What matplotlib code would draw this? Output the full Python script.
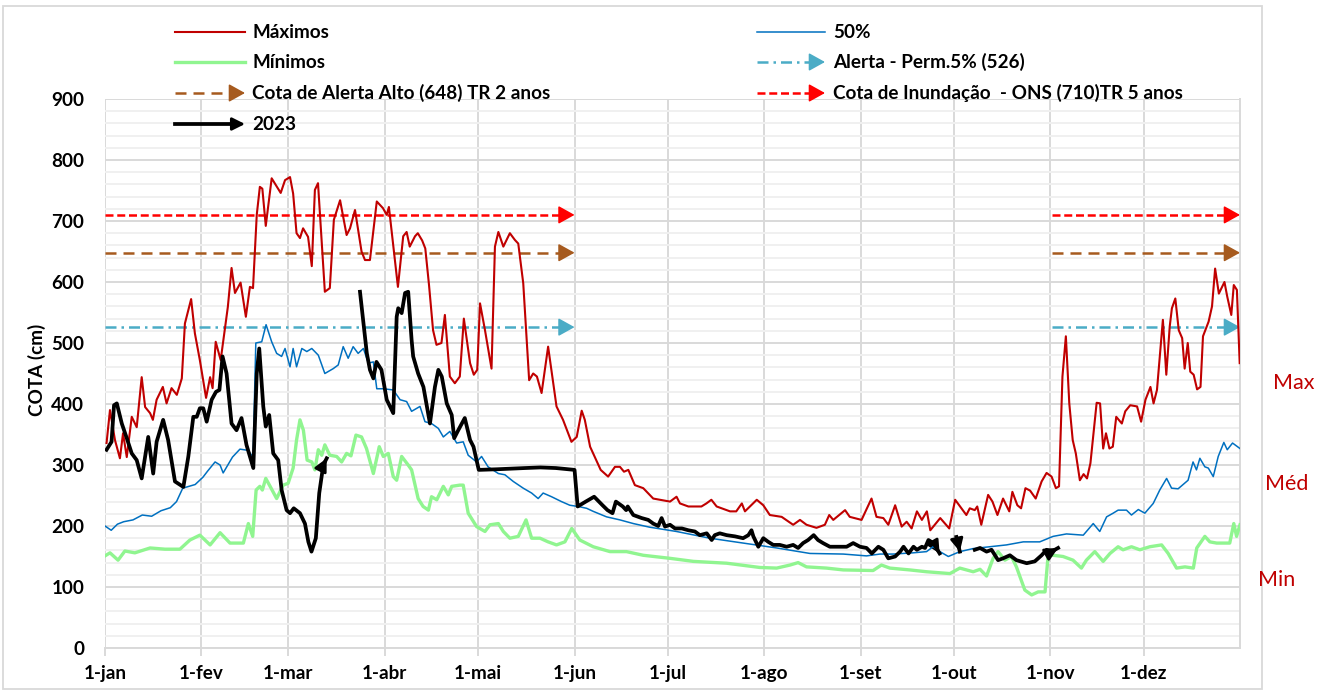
import numpy as np
import matplotlib.pyplot as plt
from matplotlib.patches import Rectangle

plt.rcParams['font.family'] = ['Lato', 'DejaVu Sans']

# eixo x em dias do ano (0 = 1-jan)
meses_dias = [0, 31, 59, 90, 120, 151, 181, 212, 243, 273, 304, 334]
meses_rot = ['1-jan', '1-fev', '1-mar', '1-abr', '1-mai', '1-jun', '1-jul',
             '1-ago', '1-set', '1-out', '1-nov', '1-dez']

# cotas maximas (dia, cm)
maximos = [(0.5, 336), (1.6, 390), (3.2, 341), (4.8, 311), (5.8, 352), (7.0, 313), (8.6, 379),
           (10.2, 362), (11.8, 444), (12.9, 395), (14.5, 385), (15.4, 374), (16.6, 407), (18.6, 428),
           (19.8, 401), (21.4, 426), (23.1, 415), (24.7, 442), (25.7, 532), (27.7, 572), (28.9, 516),
           (30.5, 472), (32.5, 410), (33.8, 444), (34.6, 426), (35.6, 502), (37.2, 472), (39.5, 559),
           (40.7, 623), (41.8, 582), (43.6, 599), (45.3, 543), (46.6, 592), (47.6, 590), (48.8, 710),
           (49.8, 756), (50.6, 753), (51.7, 692), (53.6, 770), (56.5, 746), (57.9, 767), (59.5, 772),
           (60.5, 745), (61.6, 680), (62.7, 672), (63.7, 688), (65.3, 674), (66.5, 626), (67.5, 751),
           (68.5, 762), (70.7, 584), (72.3, 590), (73.6, 702), (75.6, 734), (77.7, 677), (78.8, 688),
           (80.4, 718), (82.5, 650), (83.6, 636), (85.2, 636), (87.4, 732), (89.4, 721), (90.6, 710),
           (91.3, 723), (92.6, 664), (94.2, 592), (95.9, 675), (97.0, 682), (98.0, 658), (99.7, 675),
           (100.6, 680), (102.0, 668), (103.0, 655), (104.2, 595), (105.5, 521), (106.6, 497),
           (108.2, 500), (109.3, 546), (110.9, 445), (112.5, 434), (114.1, 445), (115.4, 540),
           (117.4, 467), (118.6, 448), (119.7, 456), (120.6, 565), (122.2, 521), (124.3, 458),
           (125.4, 658), (126.5, 682), (128.1, 658), (130.2, 680), (131.8, 669), (132.9, 663),
           (134.5, 598), (136.4, 439), (137.7, 450), (138.9, 445), (140.4, 418), (142.5, 494),
           (145.2, 396), (147.3, 374), (150.0, 338), (151.7, 346), (153.3, 389), (154.3, 374),
           (156.0, 330), (159.4, 292), (161.8, 281), (164.0, 297), (165.6, 297), (166.9, 289),
           (168.3, 292), (170.4, 267), (173.1, 262), (176.3, 245), (181.7, 240), (183.8, 248),
           (184.9, 237), (187.6, 232), (191.8, 232), (193.4, 237), (195.0, 243), (196.7, 232),
           (201.0, 224), (203.0, 224), (204.8, 237), (205.8, 224), (209.6, 243), (211.7, 234),
           (213.8, 218), (217.6, 215), (221.3, 202), (223.5, 210), (225.6, 202), (228.8, 197),
           (231.5, 202), (232.9, 218), (234.2, 210), (238.0, 226), (239.5, 215), (243.3, 210),
           (246.5, 245), (248.1, 215), (250.3, 213), (251.9, 202), (254.1, 234), (256.2, 199),
           (257.8, 207), (259.4, 196), (261.1, 224), (262.7, 210), (264.3, 224), (265.4, 193),
           (268.6, 213), (271.5, 196), (273.4, 243), (277.0, 218), (278.1, 229), (279.7, 226),
           (280.5, 232), (281.8, 202), (284.0, 251), (285.4, 240), (287.0, 218), (288.8, 245),
           (290.8, 224), (291.8, 256), (293.4, 234), (294.6, 229), (296.0, 262), (297.5, 258),
           (299.3, 245), (301.2, 273), (302.8, 287), (304.4, 281), (305.8, 262), (306.8, 265),
           (307.9, 445), (309.0, 511), (310.1, 401), (311.2, 341), (312.2, 319), (313.5, 275),
           (314.7, 285), (315.8, 278), (316.9, 303), (318.9, 402), (320.0, 401), (321.0, 327),
           (321.9, 352), (323.0, 327), (324.1, 330), (325.2, 379), (327.0, 368), (328.1, 388),
           (329.7, 398), (331.9, 396), (333.2, 371), (334.6, 407), (336.2, 428), (337.2, 401),
           (338.3, 423), (339.4, 489), (340.2, 538), (341.3, 448), (342.4, 527), (343.1, 557),
           (344.2, 573), (345.3, 521), (346.4, 508), (347.2, 458), (348.2, 500), (349.0, 453),
           (350.1, 448), (351.2, 424), (352.3, 428), (353.1, 511), (354.9, 535), (356.0, 560),
           (357.0, 622), (358.2, 581), (360.0, 600), (360.9, 576), (362.2, 546), (363.0, 595),
           (364.0, 587), (364.9, 467)]

# permanencia 50%
mediana = [(0, 200), (2, 193), (4, 203), (6, 207), (9, 210), (12, 218), (15, 216), (18, 225),
           (21, 230), (23, 240), (25, 262), (27, 265), (29, 268), (31.5, 280), (33, 290),
           (35.4, 305), (37, 300), (38, 287), (39.5, 300), (41, 313), (43.4, 326), (46, 324),
           (47.6, 313), (48.5, 500), (50.4, 502), (51.8, 530), (53.6, 502), (55.2, 483),
           (56.8, 478), (57.9, 491), (59.5, 461), (60.5, 491), (61.6, 461), (63.3, 491),
           (64.9, 486), (66.5, 491), (68.6, 480), (70.7, 450), (73.4, 458), (75.0, 464),
           (76.6, 494), (78.2, 475), (79.8, 494), (81.4, 483), (83.1, 491), (84.7, 467),
           (86.3, 469), (87.4, 425), (89.5, 425), (92.7, 423), (94.9, 407), (97.0, 404),
           (98.6, 388), (101.3, 396), (102.9, 371), (105.0, 368), (107.2, 360), (108.8, 346),
           (110.9, 355), (113.1, 336), (115.2, 338), (116.8, 316), (119.5, 305), (121.1, 314),
           (123.2, 297), (126.5, 286), (128.6, 284), (131.3, 273), (134.5, 262), (137.2, 254),
           (139.3, 245), (140.9, 254), (143.6, 248), (146.8, 240), (149.5, 234), (152.2, 232),
           (154.9, 229), (157.0, 224), (161.3, 215), (165.6, 210), (169.9, 204), (175.2, 198),
           (183.8, 191), (194.5, 180), (205.2, 172), (216.0, 164), (226.7, 155), (237.4, 154),
           (244.9, 151), (249.2, 154), (253.5, 154), (259.8, 156), (264.2, 158), (266.3, 166),
           (268.5, 158), (271.2, 150), (274.9, 158), (279.2, 163), (284.6, 166), (289.9, 169),
           (295.3, 174), (300.6, 174), (304.9, 183), (309.2, 187), (314.6, 185), (317.8, 204),
           (319.9, 191), (322.1, 215), (324.2, 221), (325.8, 226), (328.5, 226), (330.1, 218),
           (332.3, 227), (334.4, 221), (337.1, 237), (339.2, 259), (341.4, 278), (343.0, 262),
           (345.1, 261), (348.3, 275), (349.9, 305), (351.0, 292), (352.1, 311), (353.7, 297),
           (354.8, 295), (356.4, 281), (358.0, 314), (359.8, 337), (360.9, 325), (362.6, 336),
           (365.0, 327)]

# cotas minimas
minimos = [(0, 151), (1.6, 156), (4.2, 144), (6.4, 159), (9.6, 156), (14.5, 164), (19.3, 162),
           (24.1, 162), (27.3, 177), (30.5, 185), (33.8, 169), (37.0, 189), (40.2, 172),
           (44.5, 172), (46.1, 204), (47.5, 183), (48.6, 259), (49.8, 265), (50.6, 259),
           (51.7, 278), (53.1, 265), (55.2, 245), (57.3, 267), (58.9, 270), (60.5, 295),
           (61.6, 341), (62.7, 374), (63.8, 357), (65.0, 308), (66.5, 305), (67.5, 292),
           (68.6, 325), (69.7, 316), (70.7, 333), (72.3, 316), (74.5, 314), (76.1, 305),
           (77.7, 319), (79.1, 315), (80.7, 349), (82.5, 346), (84.1, 327), (86.3, 286),
           (88.2, 330), (89.5, 314), (91.1, 319), (92.7, 281), (93.8, 275), (95.4, 314),
           (97.5, 300), (98.6, 292), (100.7, 245), (102.3, 232), (104.0, 226), (105.0, 248),
           (106.7, 243), (108.8, 265), (110.4, 251), (111.5, 265), (114.1, 267), (115.2, 267),
           (116.8, 221), (119.5, 199), (122.2, 191), (123.8, 202), (126.5, 204), (128.1, 191),
           (130.2, 180), (132.9, 183), (135.4, 210), (137.2, 180), (139.9, 180), (142.5, 174),
           (145.2, 169), (147.9, 174), (150.1, 196), (152.7, 177), (157.0, 166), (162.4, 158),
           (167.7, 158), (173.1, 152), (181.7, 147), (189.2, 142), (199.9, 139), (210.6, 132),
           (216.0, 131), (220.3, 136), (222.9, 140), (225.6, 133), (232.0, 131), (237.4, 128),
           (247.0, 127), (249.7, 136), (252.4, 131), (258.8, 128), (264.2, 125), (271.7, 122),
           (274.9, 131), (279.2, 125), (281.4, 129), (283.5, 118), (285.6, 147), (287.2, 158),
           (289.4, 144), (291.5, 150), (293.1, 133), (295.8, 95), (298.0, 87), (300.1, 92),
           (302.3, 92), (303.3, 152), (304.9, 152), (308.1, 150), (311.3, 144), (314.0, 131),
           (315.6, 144), (318.3, 158), (321.0, 142), (323.2, 155), (325.8, 166), (327.4, 161),
           (330.1, 166), (332.8, 161), (336.0, 166), (339.8, 169), (341.9, 155), (344.6, 131),
           (347.3, 133), (350.0, 131), (351.1, 164), (353.7, 183), (355.3, 174), (357.5, 172),
           (361.7, 172), (363.0, 204), (363.9, 183), (365.0, 202)]

# 2023, em trechos (cada trecho termina com seta)
ano2023 = [
    [(0.5, 325), (2.1, 338), (2.9, 398), (3.8, 401), (5.4, 368), (7.0, 344), (8.6, 319),
     (10.2, 308), (11.8, 278), (13.9, 346), (15.5, 286), (16.6, 338), (18.7, 374), (20.3, 341),
     (22.5, 273), (25.2, 264), (26.8, 314), (28.4, 379), (29.5, 379), (30.5, 393), (31.6, 393),
     (32.7, 371), (34.3, 407), (35.7, 420), (36.8, 423), (37.8, 478), (39.1, 450), (40.7, 368),
     (42.3, 357), (43.9, 377), (45.5, 333), (47.7, 295), (48.8, 450), (49.6, 491), (50.9, 396),
     (51.7, 363), (52.8, 382), (54.1, 319), (55.7, 308), (56.8, 259), (58.4, 226), (59.5, 221),
     (60.7, 229), (62.7, 221), (64.3, 204), (65.4, 174), (66.4, 158), (67.8, 180), (68.9, 254),
     (70.2, 300), (71.3, 311)],
    [(82.0, 584), (83.0, 538), (84.2, 483), (85.2, 456), (86.3, 442), (87.3, 469), (88.9, 456),
     (90.6, 407), (92.7, 385), (93.8, 543), (94.3, 557), (95.4, 549), (96.5, 582), (97.5, 584),
     (98.6, 505), (99.1, 478), (100.7, 450), (102.4, 428), (104.5, 368), (106.1, 428),
     (107.2, 456), (108.3, 445), (109.9, 401), (111.5, 382), (112.3, 344), (113.6, 357),
     (115.7, 377), (117.4, 341), (118.5, 330), (120.2, 292), (126.0, 293), (135.0, 295),
     (140.0, 296), (145.0, 295), (151.0, 292), (152.0, 232), (154.6, 240), (157.3, 248),
     (160.0, 234), (161.6, 226), (163.2, 221), (164.3, 240), (166.5, 232), (167.6, 226),
     (168.1, 232), (169.9, 218), (172.6, 213), (174.7, 210), (176.3, 204), (177.9, 200),
     (179.0, 213), (180.1, 199), (181.7, 202), (183.3, 196), (185.5, 196), (187.6, 193),
     (189.7, 191), (191.3, 185), (193.5, 188), (195.1, 177), (196.1, 185), (197.7, 188),
     (199.9, 185), (202.6, 183), (205.2, 180), (206.9, 185), (207.9, 193), (208.5, 183),
     (210.1, 166), (211.7, 180), (213.3, 174), (214.9, 169), (217.0, 169), (219.2, 166),
     (221.3, 169), (222.9, 164), (224.5, 172), (226.1, 177), (227.9, 185), (229.3, 177),
     (230.9, 172), (233.1, 166), (235.3, 166), (238.5, 166), (240.6, 172), (242.8, 166),
     (244.9, 164), (246.6, 155), (248.7, 166), (250.3, 161), (251.9, 147), (254.1, 150),
     (255.7, 158), (256.8, 166), (258.4, 155), (260.0, 166), (261.1, 161), (262.7, 166),
     (263.7, 164), (264.8, 177), (266.4, 172), (268.4, 155)],
    [(273.8, 182), (274.9, 158)],
    [(279.7, 161), (281.4, 164), (283.5, 158), (285.1, 161), (287.2, 144), (288.8, 147),
     (291.0, 152), (293.1, 144), (296.4, 139), (299.0, 142), (301.2, 152), (302.8, 161),
     (304.4, 158), (306.5, 164)],
]

# cotas de referencia e periodos em que aparecem
limiares = [710, 648, 526]
limiar_cores = ['#FF0000', '#A65A1E', '#4BACC6']
limiar_dashes = [(3.2, 1.5), (4.4, 2.8), (4.4, 2.0, 1.0, 2.0)]
trechos = [(0, 151), (304.5, 365)]

VERM = '#C00000'
AZUL = '#0070C0'
VERDE = '#90F590'
FS = 13.6

SETA_LIM = '-|>,head_length=0.45,head_width=0.25'
SETA_PRETA = '-|>,head_length=0.4,head_width=0.2'


def seta(a, x0, y0, x1, y1, cor, lw, escala, estilo):
    a.annotate('', xy=(x1, y1), xytext=(x0, y0),
               arrowprops=dict(arrowstyle=estilo, color=cor, lw=lw,
                               mutation_scale=escala, shrinkA=0, shrinkB=0))


fig = plt.figure(figsize=(13.29, 6.90), dpi=100)
W, H = 1329, 690
ax = fig.add_axes([105 / W, 1 - 648 / H, (1240 - 105) / W, (648 - 99) / H])

for v, c, d in zip(limiares, limiar_cores, limiar_dashes):
    for t0, t1 in trechos:
        ax.plot([t0, t1 - 2], [v, v], color=c, lw=1.8, dashes=d, zorder=2)
        seta(ax, t1 - 3, v, t1, v, c, 1.2, 22, SETA_LIM)

d, v = np.array(minimos).T
ax.plot(d, v, color=VERDE, lw=2.4, zorder=3)
d, v = np.array(mediana).T
ax.plot(d, v, color=AZUL, lw=1.1, zorder=4)
d, v = np.array(maximos).T
ax.plot(d, v, color=VERM, lw=1.5, zorder=5)

for seg in ano2023:
    d, v = np.array(seg).T
    ax.plot(d, v, color='black', lw=2.7, zorder=6, solid_joinstyle='round')
    seta(ax, d[-2], v[-2], d[-1], v[-1], 'black', 2.0, 19, SETA_PRETA)

ax.set_xlim(0, 365)
ax.set_ylim(0, 900)
ax.set_xticks(meses_dias)
ax.set_xticklabels(meses_rot)
ax.set_yticks(range(0, 901, 100))
ax.set_yticks(range(0, 901, 20), minor=True)
ax.grid(which='major', color='#D9D9D9', lw=1.4, zorder=0)
ax.grid(which='minor', axis='y', color='#F0F0F0', lw=1.4, zorder=0)
ax.set_axisbelow(True)
for lado in ['top', 'left']:
    ax.spines[lado].set_visible(False)
for lado in ['right', 'bottom']:
    ax.spines[lado].set_color('#D9D9D9')
    ax.spines[lado].set_linewidth(1.4)
ax.tick_params(axis='x', length=6, width=1.4, color='#D9D9D9', pad=6, labelsize=FS)
ax.tick_params(axis='y', length=0, pad=15, labelsize=FS)
ax.tick_params(which='minor', length=0)
for lbl in ax.get_xticklabels() + ax.get_yticklabels():
    lbl.set_fontweight('bold')

fig.text(37 / W, 1 - 370 / H, 'COTA (cm)', rotation=90, ha='center', va='center',
         fontsize=FS, fontweight='bold')

# camada por cima para legenda, moldura e rotulos laterais
ov = fig.add_axes([0, 0, 1, 1], zorder=10)
ov.set_xlim(0, W)
ov.set_ylim(H, 0)
ov.axis('off')
ov.patch.set_alpha(0)
ov.add_patch(Rectangle((3, 6), 1259, 683, fill=False, edgecolor='#D9D9D9', lw=1.3))

legenda = [
    ('Máximos', 0, 0, VERM, 1.5, None, False),
    ('Mínimos', 0, 1, VERDE, 2.4, None, False),
    ('Cota de Alerta Alto (648) TR 2 anos', 0, 2, limiar_cores[1], 1.8, limiar_dashes[1], True),
    ('2023', 0, 3, 'black', 2.7, None, True),
    ('50%', 1, 0, AZUL, 1.1, None, False),
    ('Alerta - Perm.5% (526)', 1, 1, limiar_cores[2], 1.8, limiar_dashes[2], True),
    ('Cota de Inundação  - ONS (710)TR 5 anos', 1, 2, limiar_cores[0], 1.8, limiar_dashes[0], True),
]
col_x = [(175, 245, 252), (757, 825, 833)]
lin_y = [32, 62, 93, 124]
for txt, col, lin, cor, lw, dsh, tem_seta in legenda:
    x0, x1, xt = col_x[col]
    y = lin_y[lin]
    fim = x1 - 8 if tem_seta else x1
    if dsh is None:
        ov.plot([x0, fim], [y, y], color=cor, lw=lw)
    else:
        ov.plot([x0, fim], [y, y], color=cor, lw=lw, dashes=dsh)
    if tem_seta:
        if dsh:
            seta(ov, x1 - 10, y, x1, y, cor, 1.2, 22, SETA_LIM)
        else:
            seta(ov, x1 - 10, y, x1, y, cor, 2.0, 19, SETA_PRETA)
    ov.text(xt, y, txt, ha='left', va='center', fontsize=FS, fontweight='bold')

ov.text(1294, 383, 'Max', ha='center', va='center', color=VERM, fontsize=15.5)
ov.text(1287, 484, 'Méd', ha='center', va='center', color=VERM, fontsize=15.5)
ov.text(1277, 580, 'Min', ha='center', va='center', color=VERM, fontsize=15.5)

fig.savefig('out.png', dpi=100)
